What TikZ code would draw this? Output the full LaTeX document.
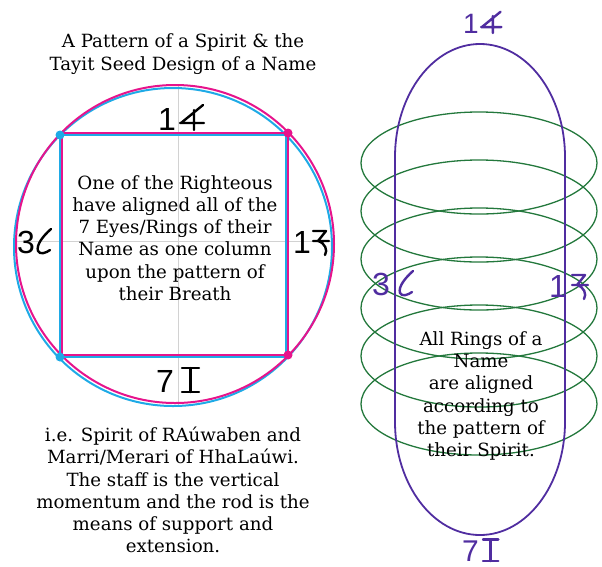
\documentclass[tikz,border=0pt]{standalone}
\usepackage{fontspec}
\setmainfont{DejaVu Serif}
\newfontfamily\digitfont{Liberation Sans}
\definecolor{ringcyan}{RGB}{30,170,230}
\definecolor{ringmagenta}{RGB}{230,20,140}
\definecolor{staffpurple}{RGB}{80,45,160}
\definecolor{ringgreen}{RGB}{35,120,60}
\tikzset{
  note/.style={align=center, inner sep=0pt, font=\fontsize{18.2}{22.3}\selectfont},
  digit/.style={anchor=base west, inner sep=0pt, font=\digitfont\fontsize{32}{32}\selectfont},
  glyph/.style={line width=2.4, line cap=round, line join=round},
  pics/slashfour/.style={code={\draw[glyph] (14,0) -- (14,-20) (0,-7) -- (24,-7) (1,-7) -- (23,-25);}},
  pics/curl/.style={code={\draw[glyph] (15,-24) .. controls (7,-17) and (0,-8) .. (2,-2) .. controls (4,2) and (10,0) .. (14,-3);}},
  pics/zedbar/.style={code={\draw[glyph] (0,-22) -- (13,-22) -- (5,-12) .. controls (12,-10) and (15,-3) .. (12,2) (0,-12) -- (16,-12);}},
  pics/serifi/.style={code={\draw[glyph] (0,-24) -- (17,-24) (8.5,-24) -- (8.5,0) (0,0) -- (17,0);}}
}
\begin{document}
\begin{tikzpicture}[x=1pt, y=-1pt]
\useasboundingbox (0,0) rectangle (602,566);
% left: the seed design
\draw[gray!35, line width=1] (178,86) -- (178,405) (14,241) -- (334,241);
\draw[ringcyan, line width=2] (173,247) circle[radius=159];
\draw[ringmagenta, line width=2] (175,244) circle[radius=159];
\draw[ringmagenta, line width=2] (62,133) rectangle (288,355);
\draw[ringcyan, line width=2] (60,135) rectangle (286,357);
\fill[ringcyan] (60,135) circle[radius=4.5] (60,357) circle[radius=4.5];
\fill[ringmagenta] (288,133) circle[radius=4.5] (288,355) circle[radius=4.5];
\node[note] (title) at (183,54) {A Pattern of a Spirit \& the\\Tayit Seed Design of a Name};
\node[note] (breath) at (175,238) {One of the Righteous\\have aligned all of the\\7 Eyes/Rings of their\\Name as one column\\upon the pattern of\\their Breath};
\node[note] (staff) at (173,490) {i.e. Spirit of RAúwaben and\\Marri/Merari of HhaLaúwi.\\The staff is the vertical\\momentum and the rod is the\\means of support and\\extension.};
\node[digit] (seedtop) at (158,130) {1};
\pic at (180,130) {slashfour};
\node[digit] (seedleft) at (17,253) {3};
\pic at (36,253) {curl};
\node[digit] (seedright) at (293,253) {1};
\pic at (313,253) {zedbar};
\node[digit] (seedbottom) at (156,392) {7};
\pic at (182,392) {serifi};
% right: rings on the staff
\foreach \cy in {163,211,259,308,356,404}
  \draw[ringgreen, line width=1.3] (479,\cy) ellipse[x radius=118, y radius=51];
\draw[staffpurple, line width=1.8] (395,157) arc[start angle=180, end angle=360, x radius=85, y radius=113]
  -- (565,422) arc[start angle=0, end angle=180, x radius=85, y radius=113] -- cycle;
\node[note] (aligned) at (481,396) {All Rings of a\\Name\\are aligned\\according to\\the pattern of\\their Spirit.};
\node[digit, staffpurple, font=\digitfont\fontsize{28}{28}\selectfont] (stafftop) at (463,33) {1};
\pic[staffpurple, scale=0.85] at (481,33) {slashfour};
\node[digit, staffpurple] (staffleft) at (372,295) {3};
\pic[staffpurple] at (398,295) {curl};
\node[digit, staffpurple] (staffright) at (549,297) {1};
\pic[staffpurple] at (572,297) {zedbar};
\node[digit, staffpurple, font=\digitfont\fontsize{30}{30}\selectfont] (staffbottom) at (462,561) {7};
\pic[staffpurple, scale=0.9] at (483,561) {serifi};
\end{tikzpicture}
\end{document}
